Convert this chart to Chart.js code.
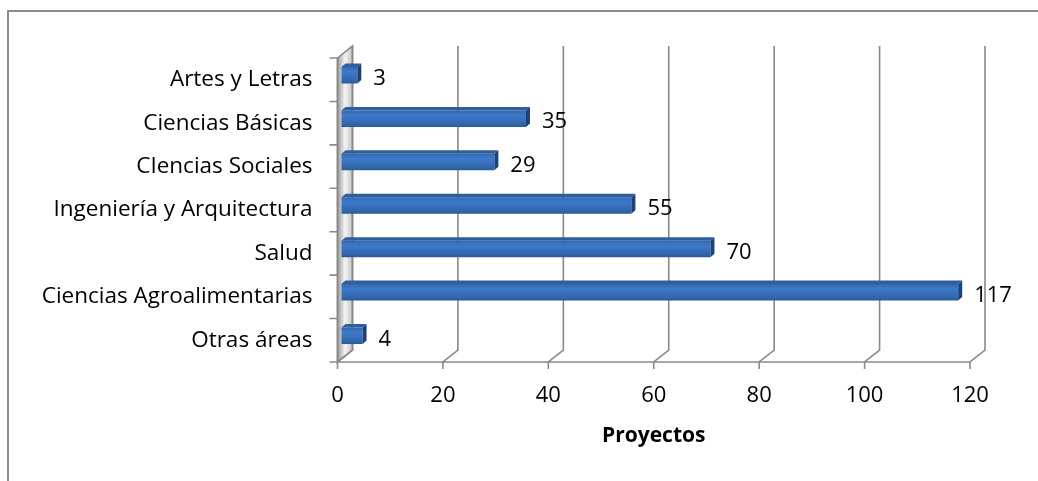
<!DOCTYPE html>
<html>
<head>
<meta charset="utf-8">
<script src="https://cdn.jsdelivr.net/npm/chart.js@4/dist/chart.umd.min.js"></script>
<style>
  html, body { margin: 0; padding: 0; background: #fff; }
</style>
</head>
<body>
<canvas id="myChart" width="1038" height="481"></canvas>
<script>
var categories = ['Artes y Letras', 'Ciencias Básicas', 'CIencias Sociales', 'Ingeniería y Arquitectura', 'Salud', 'Ciencias Agroalimentarias', 'Otras áreas'];
var proyectos = [3, 35, 29, 55, 70, 117, 4];
var xTicks = [0, 20, 40, 60, 80, 100, 120];

// 3d look: depth of the walls and of the bars
var WX = 15, WY = -12;
var BX = 4, BY = -4.5;
var DX = 4, DY = -3.5;
var FONT = '"Open Sans"';

var gridColor = '#8a8a8a';

var walls = {
  id: 'walls',
  beforeDraw: function (chart) {
    var ctx = chart.ctx, a = chart.chartArea, xs = chart.scales.x;
    ctx.save();
    ctx.fillStyle = '#fff';
    ctx.fillRect(0, 0, chart.width, chart.height);
    // outer frame
    ctx.strokeStyle = '#8c8c8c';
    ctx.lineWidth = 2;
    ctx.strokeRect(8, 11, 1200, 700);

    // left wall
    var g = ctx.createLinearGradient(a.left, 0, a.left + WX, 0);
    g.addColorStop(0, '#9a9a9a');
    g.addColorStop(0.5, '#f4f4f4');
    g.addColorStop(1, '#c4c4c4');
    ctx.beginPath();
    ctx.moveTo(a.left, a.top);
    ctx.lineTo(a.left + WX, a.top + WY);
    ctx.lineTo(a.left + WX, a.bottom + WY);
    ctx.lineTo(a.left, a.bottom);
    ctx.closePath();
    ctx.fillStyle = g;
    ctx.fill();
    ctx.strokeStyle = gridColor;
    ctx.lineWidth = 1.6;
    ctx.stroke();

    // back grid lines + x ticks
    xTicks.forEach(function (v) {
      var x = xs.getPixelForValue(v);
      ctx.beginPath();
      ctx.moveTo(x, a.bottom + 7);
      ctx.lineTo(x, a.bottom);
      ctx.lineTo(x + WX, a.bottom + WY);
      ctx.lineTo(x + WX, a.top + WY);
      ctx.stroke();
    });

    // front axes
    ctx.beginPath();
    ctx.moveTo(a.left - 8, a.bottom);
    ctx.lineTo(a.right, a.bottom);
    ctx.moveTo(a.left, a.top);
    ctx.lineTo(a.left, a.bottom);
    var step = (a.bottom - a.top) / categories.length;
    for (var i = 0; i <= categories.length; i++) {
      ctx.moveTo(a.left - 8, a.top + i * step);
      ctx.lineTo(a.left, a.top + i * step);
    }
    ctx.stroke();
    ctx.restore();
  },
  beforeDatasetsDraw: function (chart) {
    chart.ctx.save();
    chart.ctx.translate(BX, BY);
  },
  afterDatasetsDraw: function (chart) {
    var ctx = chart.ctx;
    ctx.restore();
    var meta = chart.getDatasetMeta(0);
    ctx.save();
    meta.data.forEach(function (el, i) {
      var p = el.getProps(['x', 'y', 'base', 'height'], true);
      var top = p.y - p.height / 2 + BY;
      var bot = p.y + p.height / 2 + BY;
      var x0 = p.base + BX, x1 = p.x + BX;
      // top face
      ctx.beginPath();
      ctx.moveTo(x0, top);
      ctx.lineTo(x0 + DX, top + DY);
      ctx.lineTo(x1 + DX, top + DY);
      ctx.lineTo(x1, top);
      ctx.closePath();
      ctx.fillStyle = '#2f5e9e';
      ctx.fill();
      // end face
      ctx.beginPath();
      ctx.moveTo(x1, top);
      ctx.lineTo(x1 + DX, top + DY);
      ctx.lineTo(x1 + DX, bot + DY);
      ctx.lineTo(x1, bot);
      ctx.closePath();
      ctx.fillStyle = '#1f4275';
      ctx.fill();
      // value label
      ctx.fillStyle = '#000';
      ctx.font = '22px ' + FONT;
      ctx.textAlign = 'left';
      ctx.textBaseline = 'middle';
      ctx.fillText(proyectos[i], p.x + 20, p.y - 1);
    });
    ctx.restore();
  }
};

function barFill(c) {
  var chart = c.chart, a = chart.chartArea;
  if (!a) return '#3a74c2';
  var cy = chart.scales.y.getPixelForValue(c.dataIndex);
  var h = (a.bottom - a.top) / categories.length * 0.38 / 2;
  var g = chart.ctx.createLinearGradient(0, cy - h, 0, cy + h);
  g.addColorStop(0, '#3468ad');
  g.addColorStop(0.3, '#3d7acb');
  g.addColorStop(0.85, '#3165a8');
  g.addColorStop(1, '#2a5896');
  return g;
}

new Chart(document.getElementById('myChart'), {
  type: 'bar',
  data: {
    labels: categories,
    datasets: [{
      data: proyectos,
      backgroundColor: barFill,
      borderWidth: 0,
      barPercentage: 0.38,
      categoryPercentage: 1,
      clip: false
    }]
  },
  options: {
    indexAxis: 'y',
    responsive: false,
    animation: false,
    layout: { padding: { left: 0, top: 58, right: 68, bottom: 0 } },
    plugins: { legend: { display: false }, tooltip: { enabled: false } },
    scales: {
      x: {
        min: 0, max: 120,
        ticks: { stepSize: 20, color: '#000', padding: 21, font: { family: FONT, size: 22 } },
        grid: { display: false, drawTicks: false },
        border: { display: false },
        title: { display: true, text: 'Proyectos', color: '#000', font: { family: FONT, size: 21, weight: 'bold' }, padding: { top: 0, bottom: 32 } },
        afterFit: function (s) { s.height = 119; }
      },
      y: {
        ticks: { color: '#000', padding: 25, font: { family: FONT, size: 22.5 } },
        grid: { display: false, drawTicks: false },
        border: { display: false },
        afterFit: function (s) { s.width = 337.5; }
      }
    }
  },
  plugins: [walls]
});
</script>
</body>
</html>
